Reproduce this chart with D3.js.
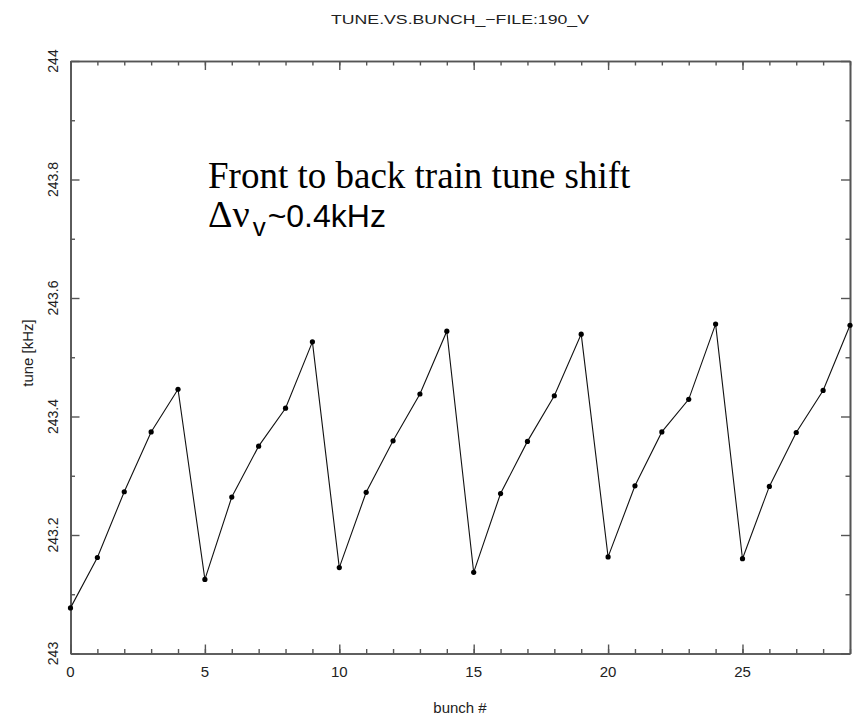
<!DOCTYPE html>
<html>
<head>
<meta charset="utf-8">
<script src="https://cdn.jsdelivr.net/npm/d3@7"></script>
<style>
	body { margin: 0; background: white; }
	.frame .domain { stroke: #555; stroke-width: 1.6; }
	.frame .tick line { stroke: #555; stroke-width: 1.4; }
	.tick-label, .axis-title, .title { font-family: "Liberation Sans", Arial, sans-serif; fill: #222; }
</style>
</head>
<body>
<svg class="chart-svg" width="859" height="718"></svg>
<script>

// bunch number and measured vertical tune [kHz]
var bunches = [0, 1, 2, 3, 4, 5, 6, 7, 8, 9, 10, 11, 12, 13, 14,
	15, 16, 17, 18, 19, 20, 21, 22, 23, 24, 25, 26, 27, 28, 29]
var tune = [243.077, 243.162, 243.273, 243.374, 243.446,
	243.125, 243.264, 243.350, 243.414, 243.526,
	243.145, 243.272, 243.359, 243.438, 243.544,
	243.137, 243.270, 243.358, 243.435, 243.539,
	243.163, 243.283, 243.374, 243.429, 243.556,
	243.160, 243.282, 243.373, 243.444, 243.554]

var xMajor = [0, 5, 10, 15, 20, 25]
var yMajor = [243, 243.2, 243.4, 243.6, 243.8, 244]
var yMinor = [243.1, 243.3, 243.5, 243.7, 243.9]

var svg = d3.select(".chart-svg")

// (window.top is read only, so no "top" here)
var plotLeft = 70.5, plotRight = 850, plotTop = 61, plotBottom = 653.5

var x = d3.scaleLinear().domain([0, 29]).range([plotLeft, plotRight])
var y = d3.scaleLinear().domain([243, 244]).range([plotBottom, plotTop])

/*
frame = four axes, ticks pointing inward.
minor ticks first, then major ones on top of them
*/
function addAxis(axisFn, scale, values, size, transform) {
	var g = svg.append("g")
		.attr("class", "frame")
		.attr("transform", transform)
		.call(axisFn(scale).tickValues(values).tickSizeInner(-size).tickSizeOuter(0).tickFormat(""))
	return g
}

addAxis(d3.axisBottom, x, bunches, 4.5, "translate(0," + plotBottom + ")")
addAxis(d3.axisBottom, x, xMajor, 9, "translate(0," + plotBottom + ")")
addAxis(d3.axisTop, x, bunches, 4.5, "translate(0," + plotTop + ")")
addAxis(d3.axisTop, x, xMajor, 9, "translate(0," + plotTop + ")")
addAxis(d3.axisLeft, y, yMinor, 4.5, "translate(" + plotLeft + ",0)")
addAxis(d3.axisLeft, y, yMajor, 9, "translate(" + plotLeft + ",0)")
addAxis(d3.axisRight, y, yMinor, 4.5, "translate(" + plotRight + ",0)")
addAxis(d3.axisRight, y, yMajor, 9, "translate(" + plotRight + ",0)")

// tick labels
svg.selectAll(".x-label")
	.data(xMajor).enter()
	.append("text")
	.attr("class", "tick-label")
	.attr("x", function(d) { return x(d) })
	.attr("y", plotBottom + 23)
	.attr("text-anchor", "middle")
	.style("font-size", "15px")
	.text(function(d) { return d })

svg.selectAll(".y-label")
	.data(yMajor).enter()
	.append("text")
	.attr("class", "tick-label")
	.attr("text-anchor", "middle")
	.attr("transform", function(d) { return "translate(" + 58 + "," + y(d) + ") rotate(-90)" })
	.style("font-size", "14px")
	.text(function(d) { return +d.toFixed(1) })

// titles
svg.append("text")
	.attr("class", "title")
	.attr("x", 460)
	.attr("y", 24)
	.attr("text-anchor", "middle")
	.attr("textLength", 258)
	.attr("lengthAdjust", "spacingAndGlyphs")
	.style("font-size", "13px")
	.text("TUNE.VS.BUNCH_\u2212FILE:190_V")

svg.append("text")
	.attr("class", "axis-title")
	.attr("x", 460)
	.attr("y", 713)
	.attr("text-anchor", "middle")
	.style("font-size", "15px")
	.text("bunch #")

svg.append("text")
	.attr("class", "axis-title")
	.attr("text-anchor", "middle")
	.attr("transform", "translate(" + 33 + "," + 353 + ") rotate(-90)")
	.style("font-size", "15px")
	.text("tune [kHz]")

// data line + dots
var line = d3.line()
	.x(function(d, i) { return x(bunches[i]) })
	.y(function(d) { return y(d) })

svg.append("path")
	.datum(tune)
	.attr("fill", "none")
	.attr("stroke", "#111")
	.attr("stroke-width", 1.1)
	.attr("d", line)

svg.selectAll(".dot")
	.data(tune).enter()
	.append("circle")
	.attr("class", "dot")
	.attr("cx", function(d, i) { return x(bunches[i]) })
	.attr("cy", function(d) { return y(d) })
	.attr("r", 2.6)
	.attr("fill", "#000")

// annotation
svg.append("text")
	.attr("x", 208)
	.attr("y", 188)
	.style("font-family", "'Liberation Serif', 'Times New Roman', serif")
	.style("font-size", "37px")
	.attr("fill", "#000")
	.text("Front to back train tune shift")

var note = svg.append("text")
	.attr("x", 208)
	.attr("y", 227)
	.attr("fill", "#000")
note.append("tspan")
	.style("font-family", "'Liberation Serif', 'Times New Roman', serif")
	.style("font-size", "38px")
	.text("\u0394\u03bd")
note.append("tspan")
	.attr("dx", 3)
	.attr("dy", 9)
	.style("font-family", "'Liberation Sans', Arial, sans-serif")
	.style("font-size", "26px")
	.text("v")
note.append("tspan")
	.attr("dx", 2)
	.attr("dy", -9)
	.style("font-family", "'Liberation Sans', Arial, sans-serif")
	.style("font-size", "32px")
	.text("~0.4kHz")

</script>
</body>
</html>
